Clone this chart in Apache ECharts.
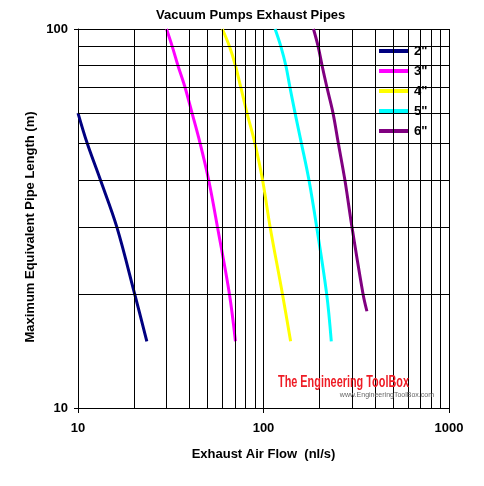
<!DOCTYPE html>
<html>
<head>
<meta charset="utf-8">
<script src="https://cdn.jsdelivr.net/npm/echarts@6/dist/echarts.min.js"></script>
<style>
html,body{margin:0;padding:0;background:#fff;}
#main{width:484px;height:486px;}
</style>
</head>
<body>
<div id="main"></div>
<script>
// Data (x: exhaust air flow nl/s, y: max equivalent pipe length m)
var seriesNames = ['2"', '3"', '4"', '5"', '6"'];
var seriesColors = ['#000080', '#ff00ff', '#ffff00', '#00ffff', '#800080'];
var pipe2 = [[10, 60], [11.2, 50], [13.2, 40], [16.2, 30], [20.2, 20], [23.5, 15]];
var pipe3 = [[30, 100], [32.2, 90], [34.6, 80], [37.8, 70], [41.2, 60], [45.5, 50], [50.6, 40], [56.5, 30], [65.5, 20], [70.6, 15]];
var pipe4 = [[60, 100], [65.5, 90], [70.6, 80], [75.5, 70], [81.5, 60], [89.8, 50], [98.8, 40], [108.6, 30], [126.5, 20], [140, 15]];
var pipe5 = [[115.5, 100], [124, 90], [132, 80], [139, 70], [148, 60], [160, 50], [175.7, 40], [193.6, 30], [219, 20], [232, 15]];
var pipe6 = [[186, 100], [197, 90], [207, 80], [220, 70], [237, 60], [253, 50], [274.5, 40], [300, 30], [344, 20], [361, 18]];
var xMinorGrid = [20, 30, 40, 50, 60, 70, 80, 90, 200, 300, 400, 500, 600, 700, 800, 900];
var yMinorGrid = [20, 30, 40, 50, 60, 70, 80, 90];
var xTickLabels = [10, 100, 1000];
var yTickLabels = [10, 100];

var allData = [pipe2, pipe3, pipe4, pipe5, pipe6];
var FONT = '"Liberation Sans", Arial, sans-serif';

var chart = echarts.init(document.getElementById('main'), null, {renderer: 'canvas'});

var series = [];
// minor grid lines via markLine (positioned by the axes' own log scales)
var gridLines = [];
xMinorGrid.forEach(function (v) { gridLines.push({xAxis: v}); });
yMinorGrid.forEach(function (v) { gridLines.push({yAxis: v}); });
series.push({
  type: 'line',
  name: 'grid',
  data: [],
  z: 1,
  silent: true,
  markLine: {
    silent: true,
    symbol: 'none',
    animation: false,
    label: {show: false},
    lineStyle: {color: '#000', width: 1, type: 'solid'},
    emphasis: {disabled: true},
    data: gridLines
  }
});
allData.forEach(function (d, i) {
  series.push({
    type: 'line',
    name: seriesNames[i],
    data: d,
    z: 3,
    showSymbol: false,
    symbol: 'none',
    smooth: 0.35,
    lineStyle: {color: seriesColors[i], width: 3},
    itemStyle: {color: seriesColors[i]}
  });
});

var option = {
  animation: false,
  backgroundColor: '#fff',
  title: {
    text: 'Vacuum Pumps Exhaust Pipes',
    left: 151, top: 4,
    textStyle: {fontFamily: FONT, fontSize: 13, fontWeight: 'bold', color: '#000'}
  },
  grid: {left: 78, top: 29, right: 35, bottom: 78, containLabel: false},
  legend: {
    orient: 'vertical',
    left: 363, top: 40,
    padding: [4, 13, 6, 16],
    backgroundColor: '#fff',
    itemGap: 6,
    itemWidth: 30,
    itemHeight: 4,
    icon: 'rect',
    data: seriesNames.map(function (n, i) { return {name: n, itemStyle: {color: seriesColors[i]}}; }),
    textStyle: {fontFamily: FONT, fontSize: 13, fontWeight: 'bold', color: '#000', lineHeight: 14}
  },
  xAxis: {
    type: 'log', logBase: 10, min: 10, max: 1000,
    name: 'Exhaust Air Flow  (nl/s)', nameLocation: 'middle', nameGap: 40,
    nameTextStyle: {fontFamily: FONT, fontSize: 13, fontWeight: 'bold', color: '#000'},
    axisLine: {show: true, lineStyle: {color: '#000', width: 1}},
    axisTick: {show: true, length: 5, inside: false, lineStyle: {color: '#000'}},
    axisLabel: {
      fontFamily: FONT, fontSize: 13, fontWeight: 'bold', color: '#000', margin: 14,
      formatter: function (v) { return xTickLabels.indexOf(Math.round(v)) >= 0 ? String(Math.round(v)) : ''; }
    },
    splitLine: {show: true, lineStyle: {color: '#000', width: 1}},
    minorTick: {show: false}, minorSplitLine: {show: false}
  },
  yAxis: {
    type: 'log', logBase: 10, min: 10, max: 100,
    axisLine: {show: true, lineStyle: {color: '#000', width: 1}},
    axisTick: {show: true, length: 4, inside: false, lineStyle: {color: '#000'}},
    axisLabel: {
      fontFamily: FONT, fontSize: 13, fontWeight: 'bold', color: '#000', margin: 10,
      formatter: function (v) { return yTickLabels.indexOf(Math.round(v)) >= 0 ? String(Math.round(v)) : ''; }
    },
    splitLine: {show: true, lineStyle: {color: '#000', width: 1}},
    minorTick: {show: false}, minorSplitLine: {show: false}
  },
  graphic: [
    {
      type: 'text', x: 30, y: 227, rotation: Math.PI / 2, z: 10,
      style: {text: 'Maximum Equivalent Pipe Length (m)', fill: '#000', align: 'center', verticalAlign: 'middle',
        font: 'bold 13px ' + FONT}
    },
    {
      type: 'rect', z: 5, silent: true,
      shape: {x: 275, y: 370, width: 162, height: 31},
      style: {fill: '#fff'}
    },
    {
      type: 'text', z: 6, x: 278, y: 382, scaleX: 0.64,
      style: {text: 'The Engineering ToolBox', fill: '#ee1c25', align: 'left', verticalAlign: 'middle',
        font: 'bold 17px ' + FONT}
    },
    {
      type: 'text', z: 6, x: 434, y: 395,
      style: {text: 'www.EngineeringToolBox.com', fill: '#666', align: 'right', verticalAlign: 'middle',
        font: '7px ' + FONT}
    }
  ],
  series: series
};
chart.setOption(option);
</script>
</body>
</html>
